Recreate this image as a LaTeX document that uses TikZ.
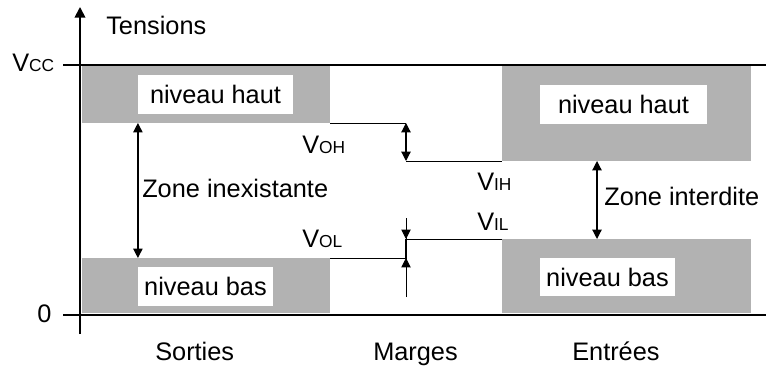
\documentclass[tikz,border=0pt]{standalone}
\usepackage{fontspec}
\setmainfont{Liberation Sans}
\usetikzlibrary{positioning, arrows.meta, fit}

\newcommand{\volt}[1]{V{\fontsize{13}{13}\selectfont #1}}

\begin{document}
\begin{tikzpicture}[
  x=0.75pt, y=-0.75pt,
  every node/.style = {font=\fontsize{19}{22}\selectfont, inner sep=0pt},
  zone/.style = {fill=black!30, draw=none, inner sep=0pt, outer sep=0pt},
  niv/.style = {fill=white, minimum height=29pt, minimum width=#1},
  arr/.style = {{Triangle[length=7pt,width=7pt]}-{Triangle[length=7pt,width=7pt]}, line width=0.9pt},
  half/.style = {-{Triangle[length=7pt,width=7pt]}, line width=0.7pt},
  rail/.style = {line width=2.2pt},
  fin/.style = {line width=0.7pt}
]
\useasboundingbox (0,0) rectangle (766,367);

% grey zones
\node[zone, fit={(82,66) (330,123)}]  (sortH) {};
\node[zone, fit={(82,258) (330,313)}] (sortB) {};
\node[zone, fit={(502,66) (751,161)}] (entH)  {};
\node[zone, fit={(502,239) (751,313)}] (entB) {};

\node[niv=116pt] (nivSH) at (215.5,94.5) {niveau haut};
\node[niv=101pt] (nivSB) at (205.5,286.5) {niveau bas};
\node[niv=125pt] (nivEH) at (623.5,104.5) {niveau haut};
\node[niv=101pt] (nivEB) at (607.5,277) {niveau bas};

% axis and rails
\coordinate (axB) at (80,334);
\coordinate (axT) at (80,7);
\coordinate (vccL) at (63,65);
\coordinate (vccR) at (766,65);
\coordinate (zeroL) at (63,315);
\coordinate (zeroR) at (766,315);
\draw[rail] (vccL) -- (vccR);
\draw[rail] (zeroL) -- (zeroR);
\draw[-{Triangle[length=8pt,width=8pt]}, line width=1.3pt] (axB) -- (axT);

\node[anchor=base west] (vcc)  at (12,72)  {\volt{CC}};
\node[anchor=base west] (zero) at (37,322) {0};
\node[anchor=base west] (tens) at (106,35) {Tensions};

% zones
\draw[arr] (nivSH.west |- sortH.south) -- (nivSB.west |- sortB.north);
\node[anchor=base west] (zi) at (142,197) {Zone inexistante};
\coordinate (zdH) at (597,161);
\coordinate (zdB) at (597,239);
\draw[arr] (zdH) -- (zdB);
\node[anchor=base west] (zd) at (604,205) {Zone interdite};

% margins
\coordinate (mOH) at (406,123);
\coordinate (mIH) at (406,161);
\coordinate (mIL) at (406,239);
\coordinate (mOL) at (406,258);
\coordinate (mTop) at (406,218);
\coordinate (mBot) at (406,297);
\draw[fin] (sortH.south east) -- (mOH);
\draw[fin] (mIH) -- (mIH -| entH.west);
\draw[arr] (mOH) -- (mIH);
\draw[fin] (sortB.north east) -- (mOL);
\draw[fin] (mIL) -- (mIL -| entB.west);
\draw[fin] (mTop) -- (mBot);
\draw[line width=1.8pt] (mIL) -- (mOL);
\draw[half] (mTop) -- (mIL);
\draw[half] (mBot) -- (mOL);

\node[anchor=base west] (voh) at (302,153) {\volt{OH}};
\node[anchor=base west] (vih) at (477,190) {\volt{IH}};
\node[anchor=base west] (vil) at (477,230) {\volt{IL}};
\node[anchor=base west] (vol) at (302,247) {\volt{OL}};

% columns
\node[anchor=base west] (sort) at (155,360) {Sorties};
\node[anchor=base west] (marg) at (373,360) {Marges};
\node[anchor=base west] (entr) at (572,360) {Entrées};
\end{tikzpicture}
\end{document}
